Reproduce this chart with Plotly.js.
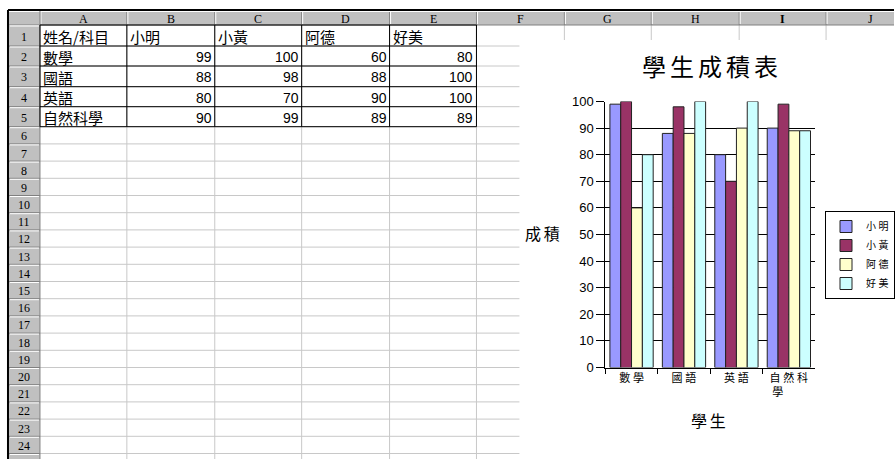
<!DOCTYPE html>
<html>
<head>
<meta charset="utf-8">
<script src="https://cdn.plot.ly/plotly-3.0.1.min.js"></script>
<style>
  html, body { margin: 0; padding: 0; background: #ffffff; overflow: hidden; width: 895px; height: 459px; }
  #sheet { width: 895px; height: 459px; overflow: hidden; }
</style>
</head>
<body>
<div id="sheet"></div>
<script>
// ---- data ----
const subjects = ['數學', '國語', '英語', '自然科學'];
const students = ['小明', '小黃', '阿德', '好美'];
const scoresXiaoMing = [99, 88, 80, 90];
const scoresXiaoHuang = [100, 98, 70, 99];
const scoresADe = [60, 88, 90, 89];
const scoresHaoMei = [80, 100, 100, 89];
const scores = [scoresXiaoMing, scoresXiaoHuang, scoresADe, scoresHaoMei];
const cornerLabel = '姓名/科目';
const columnLetters = ['A', 'B', 'C', 'D', 'E', 'F', 'G', 'H', 'I', 'J'];
const chartTitle = '學生成積表';
const xTitle = '學生';
const yTitle = '成積';

// ---- page geometry (pixels) ----
const W = 895, H = 459;
const X = v => v / W;
const Y = v => 1 - v / H;
const CJK = '"Noto Sans CJK TC", "Noto Sans CJK JP", sans-serif';
const spaced = (s, sp) => Array.from(s).join(sp);

const colEdges = [40, 127, 215, 302, 390, 477, 565, 652, 740, 827, 915];
const headTop = 10, headBottom = 25;
const rowEdges = [headBottom, 46, 66, 86.7, 106.7, 126.7];
while (rowEdges[rowEdges.length - 1] < H) rowEdges.push(rowEdges[rowEdges.length - 1] + 17.2);

const shapes = [];
const annotations = [];
const line = (x0, y0, x1, y1, color, width) => shapes.push({
  type: 'line', xref: 'paper', yref: 'paper', layer: 'below',
  x0: X(x0), y0: Y(y0), x1: X(x1), y1: Y(y1),
  line: { color: color, width: width || 1 }
});
const rect = (x0, y0, x1, y1, fill) => shapes.push({
  type: 'rect', xref: 'paper', yref: 'paper', layer: 'below',
  x0: X(x0), y0: Y(y0), x1: X(x1), y1: Y(y1),
  fillcolor: fill, line: { width: 0 }
});
const text = (str, x, y, anchor, font, extra) => annotations.push(Object.assign({
  text: str, xref: 'paper', yref: 'paper', x: X(x), y: Y(y),
  xanchor: anchor, yanchor: 'middle', showarrow: false, font: font, borderpad: 0
}, extra || {}));

// cell gridlines
const gridColor = '#c8c8c8';
for (let i = 1; i < rowEdges.length; i++) line(colEdges[0], rowEdges[i], W, rowEdges[i], gridColor);
for (let j = 1; j < colEdges.length - 1; j++) line(colEdges[j], headBottom, colEdges[j], H, gridColor);

// column header strip
rect(8, headTop, W, headBottom, '#c0c0c0');
for (let j = 0; j < colEdges.length - 1; j++) {
  line(colEdges[j] + 1, headTop + 1, colEdges[j] + 1, headBottom - 1, '#ffffff');
  line(colEdges[j + 1], headTop, colEdges[j + 1], headBottom, '#808080');
  const bold = columnLetters[j] === 'I';
  text(bold ? '<b>' + columnLetters[j] + '</b>' : columnLetters[j],
       (colEdges[j] + colEdges[j + 1]) / 2, (headTop + headBottom) / 2 + 1, 'center',
       { family: 'Liberation Serif, serif', size: 12, color: '#000000' });
}
line(8, headTop + 1.5, W, headTop + 1.5, '#ffffff');
line(8, headBottom, W, headBottom, '#808080');

// row header strip
rect(8, headBottom, colEdges[0], H, '#c0c0c0');
for (let i = 0; i < rowEdges.length - 1; i++) {
  line(10, rowEdges[i] + 1, colEdges[0] - 1, rowEdges[i] + 1, '#ffffff');
  line(8, rowEdges[i + 1], colEdges[0], rowEdges[i + 1], '#808080');
  if (rowEdges[i + 1] <= H) {
    text(String(i + 1), 24, (rowEdges[i] + rowEdges[i + 1]) / 2 + 1, 'center',
         { family: 'Liberation Serif, serif', size: 12, color: '#000000' });
  }
}
line(colEdges[0], headTop, colEdges[0], H, '#808080');

// window frame
line(8, headTop, W, headTop, '#000000', 2);
line(8, headTop, 8, H, '#000000', 2);

// table borders around A1:E5
const tableRight = colEdges[5];
for (let i = 0; i <= 5; i++) line(colEdges[0], rowEdges[i], tableRight, rowEdges[i], '#000000');
for (let j = 0; j <= 5; j++) line(colEdges[j], rowEdges[0], colEdges[j], rowEdges[5], '#000000');

// table contents
const cellFont = { family: CJK, size: 15, color: '#000000' };
const numFont = { family: 'Liberation Sans, Arial, sans-serif', size: 14, color: '#000000' };
const rowMid = r => (rowEdges[r - 1] + rowEdges[r]) / 2 + 1;
text(cornerLabel, colEdges[0] + 2, rowMid(1), 'left', cellFont);
students.forEach((s, k) => text(s, colEdges[k + 1] + 2, rowMid(1), 'left', cellFont));
subjects.forEach((sub, i) => {
  text(sub, colEdges[0] + 2, rowMid(i + 2), 'left', cellFont);
  scores.forEach((series, k) => text(String(series[i]), colEdges[k + 2] - 2, rowMid(i + 2), 'right', numFont));
});

// embedded chart object: white area over the grid
rect(520, 40, W, H, '#ffffff');

// chart titles
text(spaced(chartTitle, '\u2006'), 711, 65, 'center', { family: CJK, size: 24, color: '#000000' });
text(spaced(yTitle, '\u2006'), 543, 233, 'center', { family: CJK, size: 16, color: '#000000' });
text(spaced(xTitle, '\u2006'), 709, 420, 'center', { family: CJK, size: 16, color: '#000000' });

// ---- bar traces ----
const colors = ['#9999ff', '#993366', '#ffffcc', '#ccffff'];
const traces = students.map((name, k) => ({
  type: 'bar',
  x: subjects,
  y: scores[k],
  name: spaced(name, '\u2005'),
  marker: { color: colors[k], line: { color: '#222222', width: 1 } },
  hoverinfo: 'skip'
}));

const tickText = subjects.map(s => s.length > 3
  ? spaced(s.slice(0, 3), '\u2005') + '<br>' + s.slice(3) + '\u3000\u3000'
  : spaced(s, '\u2005'));

const layout = {
  width: W, height: H,
  margin: { l: 0, r: 0, t: 0, b: 0, pad: 0 },
  paper_bgcolor: '#ffffff',
  plot_bgcolor: 'rgba(0,0,0,0)',
  showlegend: true,
  barmode: 'group',
  bargap: 0.175,
  bargroupgap: 0,
  xaxis: {
    domain: [X(606), X(816)],
    type: 'category',
    tickmode: 'array', tickvals: subjects, ticktext: tickText,
    tickson: 'boundaries', ticks: 'outside', ticklen: 5, tickcolor: '#000000',
    showline: true, linecolor: '#000000', linewidth: 1, showgrid: false,
    tickfont: { family: CJK, size: 11, color: '#000000' },
    range: [-0.5, subjects.length - 0.5], fixedrange: true
  },
  yaxis: {
    domain: [Y(367.5), Y(101.5)],
    range: [0, 100], dtick: 10, tick0: 0,
    ticks: 'outside', ticklen: 8, tickcolor: '#000000',
    showline: true, linecolor: '#000000', linewidth: 1,
    showgrid: true, gridcolor: '#000000', gridwidth: 1, zeroline: false,
    tickfont: { family: 'Liberation Sans, Arial, sans-serif', size: 13, color: '#000000' },
    fixedrange: true
  },
  legend: {
    x: X(826), y: Y(211), xanchor: 'left', yanchor: 'top',
    bgcolor: '#ffffff', bordercolor: '#000000', borderwidth: 1,
    font: { family: CJK, size: 10, color: '#000000' },
    itemwidth: 30, tracegroupgap: 0
  },
  shapes: shapes,
  annotations: annotations
};

Plotly.newPlot('sheet', traces, layout, { displayModeBar: false, staticPlot: true });
</script>
</body>
</html>
